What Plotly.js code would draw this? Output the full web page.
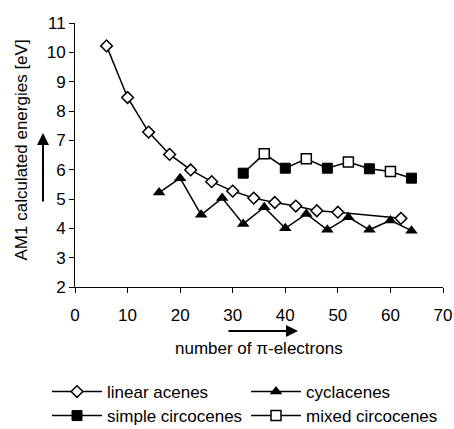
<!DOCTYPE html>
<html>
<head>
<meta charset="utf-8">
<script src="https://cdn.plot.ly/plotly-3.0.1.min.js"></script>
<style>html,body{margin:0;padding:0;background:#fff;}#chart{width:454px;height:429px;}</style>
</head>
<body>
<div id="chart"></div>
<script>
const acenesX = [6, 10, 14, 18, 22, 26, 30, 34, 38, 42, 46, 50, 62];
const acenesY = [10.22, 8.46, 7.28, 6.52, 5.99, 5.59, 5.27, 5.03, 4.88, 4.76, 4.6, 4.55, 4.34];
const cyclX = [16, 20, 24, 28, 32, 36, 40, 44, 48, 52, 56, 60, 64];
const cyclY = [5.22, 5.71, 4.46, 5.03, 4.15, 4.72, 4.0, 4.49, 3.95, 4.38, 3.95, 4.27, 3.92];
const simpleX = [32, 40, 48, 56, 64];
const simpleY = [5.88, 6.05, 6.05, 6.03, 5.71];
const mixedX = [36, 44, 52, 60];
const mixedY = [6.54, 6.37, 6.26, 5.94];
const xTicks = [0, 10, 20, 30, 40, 50, 60, 70];
const yTicks = [2, 3, 4, 5, 6, 7, 8, 9, 10, 11];

// combined circocene line (points joined in order of pi-electrons)
const circ = simpleX.map((x, i) => [x, simpleY[i]]).concat(mixedX.map((x, i) => [x, mixedY[i]]))
  .sort((a, b) => a[0] - b[0]);
// gapped copies so marker traces draw no own segments
function gapped(xs, ys) {
  const gx = [], gy = [];
  xs.forEach((x, i) => { if (i > 0) { gx.push(null); gy.push(null); } gx.push(x); gy.push(ys[i]); });
  return [gx, gy];
}
const [sgx, sgy] = gapped(simpleX, simpleY);
const [mgx, mgy] = gapped(mixedX, mixedY);

const lineStyle = {color: '#000', width: 1.5};
const traces = [
  {x: circ.map(p => p[0]), y: circ.map(p => p[1]), mode: 'lines', line: lineStyle, showlegend: false, hoverinfo: 'skip'},
  {x: acenesX, y: acenesY, name: 'linear acenes', mode: 'lines+markers', line: lineStyle, legend: 'legend',
   marker: {symbol: 'diamond', size: 9, color: '#fff', line: {color: '#000', width: 1.5}}},
  {x: cyclX, y: cyclY, name: 'cyclacenes', mode: 'lines+markers', line: lineStyle, legend: 'legend',
   marker: {symbol: 'triangle-up', size: 11, color: '#000', line: {color: '#000', width: 0}}},
  {x: sgx, y: sgy, name: 'simple circocenes', mode: 'lines+markers', line: lineStyle, connectgaps: false, legend: 'legend2',
   marker: {symbol: 'square', size: 10, color: '#000', line: {color: '#000', width: 1}}},
  {x: mgx, y: mgy, name: 'mixed circocenes', mode: 'lines+markers', line: lineStyle, connectgaps: false, legend: 'legend2',
   marker: {symbol: 'square', size: 10, color: '#fff', line: {color: '#000', width: 1.5}}}
];

const font = {family: 'Liberation Sans, Arial, sans-serif', color: '#000'};
const F = s => Object.assign({size: s}, font);
const legendBase = {orientation: 'h', xref: 'paper', yref: 'paper', x: (47 - 75) / 368, xanchor: 'left',
  yanchor: 'middle', entrywidth: 134, itemwidth: 50, font: F(17), bgcolor: 'rgba(0,0,0,0)', traceorder: 'normal'};
const layout = {
  width: 454, height: 429,
  margin: {l: 75, r: 11, t: 23, b: 142, autoexpand: false},
  paper_bgcolor: '#fff', plot_bgcolor: '#fff',
  font: F(17),
  showlegend: true,
  xaxis: {range: [0, 70], tickvals: xTicks, ticktext: xTicks.map(String), showgrid: false, zeroline: false,
    showline: true, linecolor: '#000', linewidth: 1, ticks: 'outside', ticklen: 5, tickcolor: '#000',
    tickfont: F(17), ticklabelstandoff: 8},
  yaxis: {range: [2, 11], tickvals: yTicks, ticktext: yTicks.map(String), showgrid: false, zeroline: false,
    showline: true, linecolor: '#000', linewidth: 1, ticks: 'outside', ticklen: 5, tickcolor: '#000',
    tickfont: F(17)},
  legend: Object.assign({}, legendBase, {y: (287 - 392) / 264}),
  legend2: Object.assign({}, legendBase, {y: (287 - 416) / 264}),
  annotations: [
    {xref: 'paper', yref: 'paper', x: (21 - 75) / 368, y: (287 - 150.5) / 264, xanchor: 'center', yanchor: 'middle',
     text: 'AM1 calculated energies [eV]', textangle: -90, showarrow: false, font: F(17)},
    {xref: 'paper', yref: 'paper', x: (259 - 75) / 368, y: (287 - 348) / 264, xanchor: 'center', yanchor: 'middle',
     text: 'number of π-electrons', showarrow: false, font: F(17)},
    {xref: 'paper', yref: 'paper', x: (43 - 75) / 368, y: (287 - 133) / 264, ax: 0, ay: 70, text: '', showarrow: true,
     arrowhead: 2, arrowsize: 1.2, arrowwidth: 2, arrowcolor: '#000'},
    {xref: 'paper', yref: 'paper', x: (298 - 75) / 368, y: (287 - 331) / 264, ax: -71, ay: 0, text: '', showarrow: true,
     arrowhead: 2, arrowsize: 1.2, arrowwidth: 2, arrowcolor: '#000'}
  ]
};
Plotly.newPlot('chart', traces, layout, {displayModeBar: false, staticPlot: true});
</script>
</body>
</html>
